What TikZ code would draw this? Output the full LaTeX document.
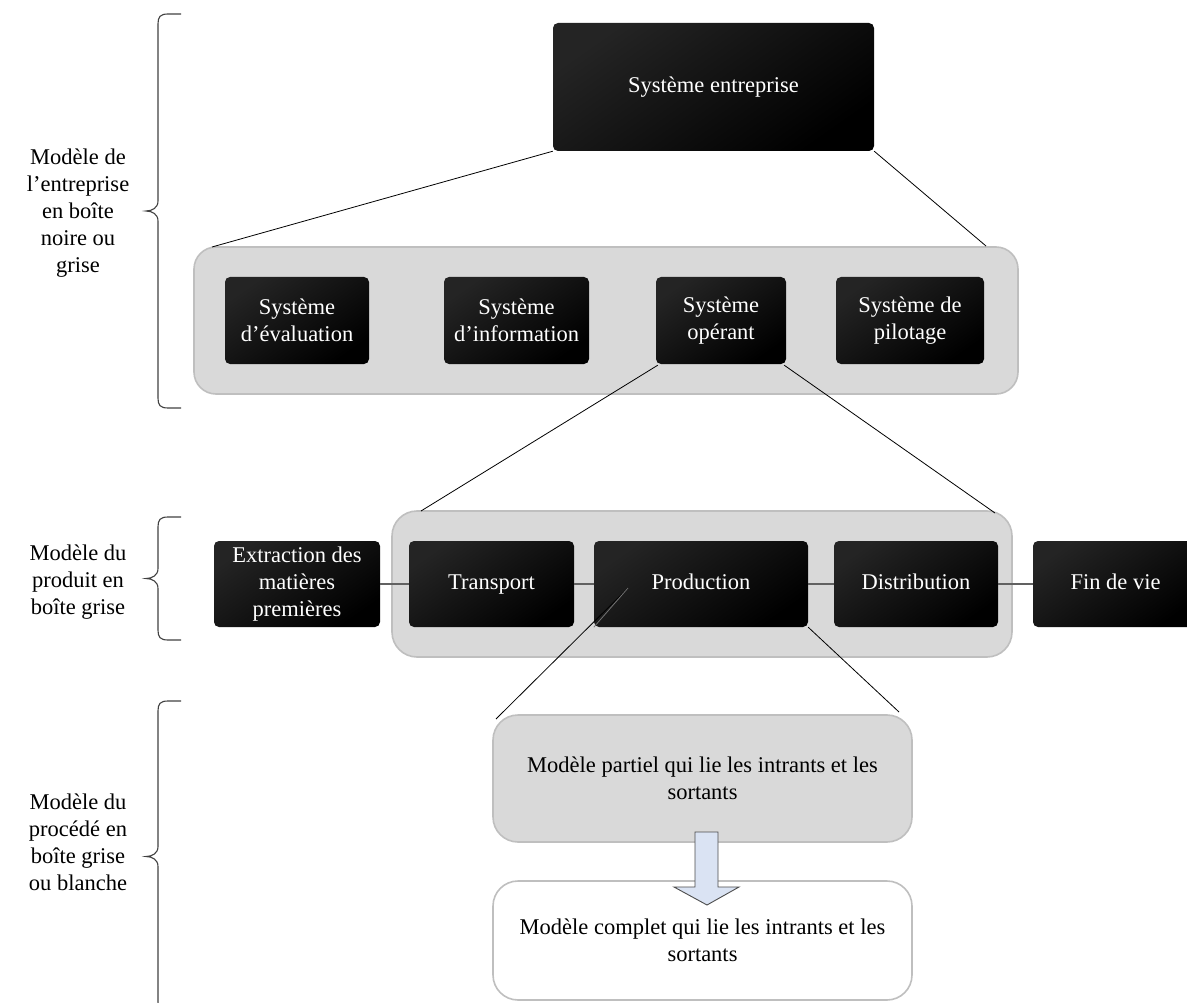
\documentclass[tikz,border=0pt]{standalone}
\usepackage{fontspec}
\setmainfont{Liberation Serif}
\newcommand\diagfont{\fontsize{22.5}{27}\selectfont}
\definecolor{arrowfill}{HTML}{DAE3F3}
\begin{document}
\begin{tikzpicture}[x=1pt,y=-1pt,
  darkbox/.style={rounded corners=5pt, top color=black!86, bottom color=black,
    shading angle=35, text=white, font=\diagfont, align=center, inner sep=0pt},
  graybox/.style={rounded corners=22pt, fill=black!15, draw=black!25, line width=1.6pt,
    font=\diagfont, align=center, inner sep=0pt},
  whitebox/.style={graybox, fill=white},
  link/.style={draw=black, line width=0.8pt},
  chain/.style={draw=black!62, line width=1.5pt},
  sidelabel/.style={font=\diagfont, align=center, inner sep=0pt},
  bracestyle/.style={draw=black!75, line width=1.1pt},
  blockarrow/.style={fill=arrowfill, draw=black!70, line width=0.9pt}]

\useasboundingbox (0,0) rectangle (1187,1003);

% brackets on the left margin: top y, bottom y
\newcommand\sidebrace[2]{%
  \pgfmathsetmacro\bmid{(#1+#2)/2}%
  \draw[bracestyle] (181,#1) -- (168,#1) .. controls (160,#1) and (158,#1+3) .. (158,#1+10)
    -- (158,\bmid-10) .. controls (158,\bmid-3) and (152,\bmid) .. (146,\bmid)
    .. controls (152,\bmid) and (158,\bmid+3) .. (158,\bmid+10)
    -- (158,#2-10) .. controls (158,#2-3) and (160,#2) .. (168,#2) -- (181,#2);}

\sidebrace{14}{408}
\sidebrace{517}{640}
\sidebrace{701}{1012}

\node[sidelabel] (lab1) at (78,213) {Modèle de\\l’entreprise\\en boîte\\noire ou\\grise};
\node[sidelabel] (lab2) at (78,582) {Modèle du\\produit en\\boîte grise};
\node[sidelabel] (lab3) at (78,842) {Modèle du\\procédé en\\boîte grise\\ou blanche};

% enterprise level
\node[darkbox, minimum width=321, minimum height=128] (ent) at (713.5,87) {\strut Système entreprise};
\node[graybox, minimum width=824, minimum height=147] (lvl1) at (606,320.5) {};
\node[darkbox, minimum width=144, minimum height=87] (eval) at (297,320.5) {Système\\d’évaluation};
\node[darkbox, minimum width=145, minimum height=87] (info) at (516.5,320.5) {Système\\d’information};
\node[darkbox, minimum width=130, minimum height=87] (oper) at (721,320.5) {Système\\opérant};
\node[darkbox, minimum width=148, minimum height=87] (pilot) at (910,320.5) {Système de\\pilotage};

\coordinate (l1a) at (212,247);
\coordinate (l1b) at (986,246);
\draw[link] (ent.south west) -- (l1a);
\draw[link] (ent.south east) -- (l1b);

% product level
\node[graybox, rounded corners=25pt, minimum width=620, minimum height=146] (lvl2) at (702,584) {};
\node[darkbox, minimum width=166, minimum height=86] (extr) at (297,584) {Extraction des\\matières\\premières};
\node[darkbox, minimum width=165, minimum height=86] (trans) at (491.5,584) {\strut Transport};
\node[darkbox, minimum width=214, minimum height=86] (prod) at (701,584) {\strut Production};
\node[darkbox, minimum width=164, minimum height=86] (dist) at (916,584) {\strut Distribution};
\node[darkbox, minimum width=165, minimum height=86] (fin) at (1115.5,584) {\strut Fin de vie};

\draw[chain] (extr.east) -- (trans.west);
\draw[chain] (trans.east) -- (prod.west);
\draw[chain] (prod.east) -- (dist.west);
\draw[chain] (dist.east) -- (fin.west);

\coordinate (l2a) at (421,511);
\coordinate (l2b) at (995,513);
\draw[link] ([xshift=2pt,yshift=-1pt]oper.south west) -- (l2a);
\draw[link] ([xshift=-2pt,yshift=-1pt]oper.south east) -- (l2b);

% process level
\node[graybox, rounded corners=25pt, minimum width=419, minimum height=127] (part) at (702.5,778.5)
  {Modèle partiel qui lie les intrants et les\\sortants};
\node[whitebox, rounded corners=25pt, minimum width=419, minimum height=119] (full) at (702.5,940.5)
  {Modèle complet qui lie les intrants et les\\sortants};

\coordinate (pin) at (628,588);
\coordinate (l3a) at (496,719);
\coordinate (l3b) at (899,712);
\draw[link] (pin) -- (l3a);
\draw[draw=black!55, line width=0.8pt] (pin) -- (prod.south west);
\draw[link] (prod.south east) -- (l3b);

% block arrow from the partial model down to the complete one
\draw[blockarrow] (695,832) -- (718,832) -- (718,887) -- (739,887) -- (707,905)
  -- (674,887) -- (695,887) -- cycle;

\end{tikzpicture}
\end{document}
